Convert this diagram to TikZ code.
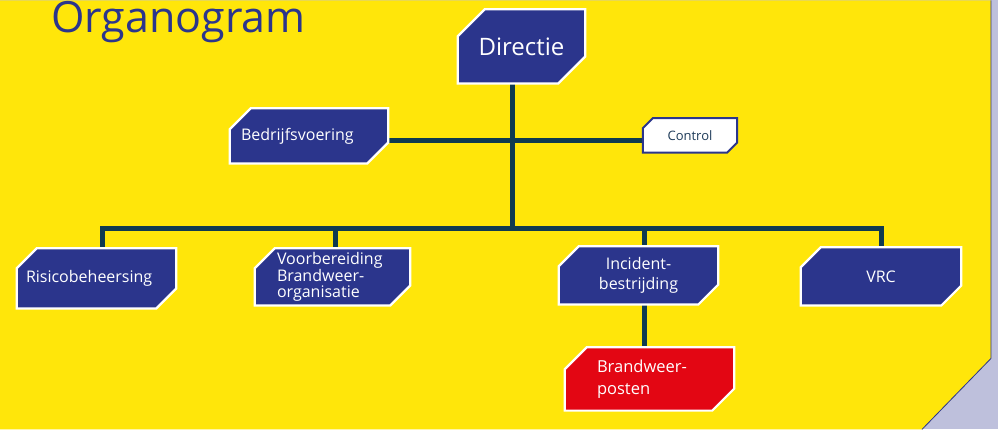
\documentclass[tikz,border=0pt]{standalone}
\usepackage{fontspec}
\setmainfont{Open Sans}
\pgfdeclarelayer{background}
\pgfsetlayers{background,main}
\definecolor{navy}{HTML}{2B358C}
\definecolor{linkc}{HTML}{0F3A50}
\definecolor{bgyellow}{HTML}{FFE60A}
\definecolor{lav}{HTML}{BEC0DC}
\definecolor{redbox}{HTML}{E30613}
\definecolor{ctrltext}{HTML}{1F3C5A}
\newcommand\drawchamf[3]{%
  \path[#3] ([yshift=-#2pt]#1.north west) -- ([xshift=#2pt]#1.north west) -- (#1.north east)
    -- ([yshift=#2pt]#1.south east) -- ([xshift=-#2pt]#1.south east) -- (#1.south west) -- cycle;}
\begin{document}
\begin{tikzpicture}[x=1pt,y=-1pt,
  box/.style={rectangle, inner ysep=0pt, text=white, font=\fontsize{16}{16.5}\selectfont},
  navyshape/.style={draw=white, line width=2.2pt, fill=navy},
  redshape/.style={draw=white, line width=2.2pt, fill=redbox},
  ctrlshape/.style={draw=navy, line width=2pt, fill=white},
  link/.style={draw=linkc, line width=5pt}]
% nodes
\node[box, minimum width=127pt, minimum height=74pt, font=\fontsize{24}{26}\selectfont] (dir) at (521.5,46) {Directie};
\node[box, minimum width=158pt, minimum height=55pt, inner xsep=11pt, text width=136pt, align=left] (bedr) at (309,135.5) {Bedrijfsvoering};
\node[box, minimum width=94pt, minimum height=34pt, text=ctrltext, font=\fontsize{13}{14}\selectfont] (ctrl) at (690,135) {Control};
\node[box, minimum width=159pt, minimum height=60pt, inner xsep=9pt, text width=141pt, align=left] (risk) at (96.5,278) {Risicobeheersing};
\node[box, minimum width=155pt, minimum height=57pt, inner xsep=22pt, text width=111pt, align=left] (voor) at (332.5,276.5) {Voorbereiding\\Brandweer-\\organisatie};
\node[box, minimum width=159pt, minimum height=58pt, text width=140pt, align=center, font=\fontsize{16}{20}\selectfont] (inc) at (638.5,275) {Incident-\\bestrijding};
\node[box, minimum width=160pt, minimum height=58pt, text width=140pt, align=center] (vrc) at (881,276) {VRC};
\node[box, minimum width=169pt, minimum height=63pt, inner xsep=32pt, text width=105pt, align=left, font=\fontsize{16.5}{22}\selectfont] (brand) at (649.5,378.5) {Brandweer-\\posten};
% title
\node[anchor=base west, inner sep=0pt, text=navy, font=\fontsize{43}{45}\selectfont] (title) at (51,32) {Organogram};
% junction coordinates
\coordinate (top) at (512,83);
\coordinate (J) at (512,228);
\coordinate (L) at (102,228);
\coordinate (V) at (335,228);
\coordinate (I) at (644,228);
\coordinate (R) at (881,228);
\coordinate (C) at (512,140);
\begin{pgfonlayer}{background}
% background
\fill[lav] (0,0) rectangle (998,429);
\fill[bgyellow] (0,0) -- (991,0) -- (991,358) -- (922,429) -- (0,429) -- cycle;
\draw[navy, line width=0.8pt] (991,0) -- (991,358) -- (922,429);
% connectors
\draw[link] (top) -- (J);
\draw[link, line join=miter] (L |- risk.north) -- (L) -- (R) -- (R |- vrc.north);
\draw[link] (V) -- (V |- voor.north);
\draw[link] (I) -- (I |- inc.north);
\draw[link] (inc.south -| I) -- (brand.north -| I);
\draw[link] (bedr.east |- C) -- (ctrl.west |- C);
% box shapes
\drawchamf{dir}{27}{navyshape}
\drawchamf{bedr}{21}{navyshape}
\drawchamf{ctrl}{10}{ctrlshape}
\drawchamf{risk}{20}{navyshape}
\drawchamf{voor}{20}{navyshape}
\drawchamf{inc}{20}{navyshape}
\drawchamf{vrc}{20}{navyshape}
\drawchamf{brand}{22}{redshape}
\end{pgfonlayer}
\useasboundingbox (0,0) rectangle (998,429);
\end{tikzpicture}
\end{document}
